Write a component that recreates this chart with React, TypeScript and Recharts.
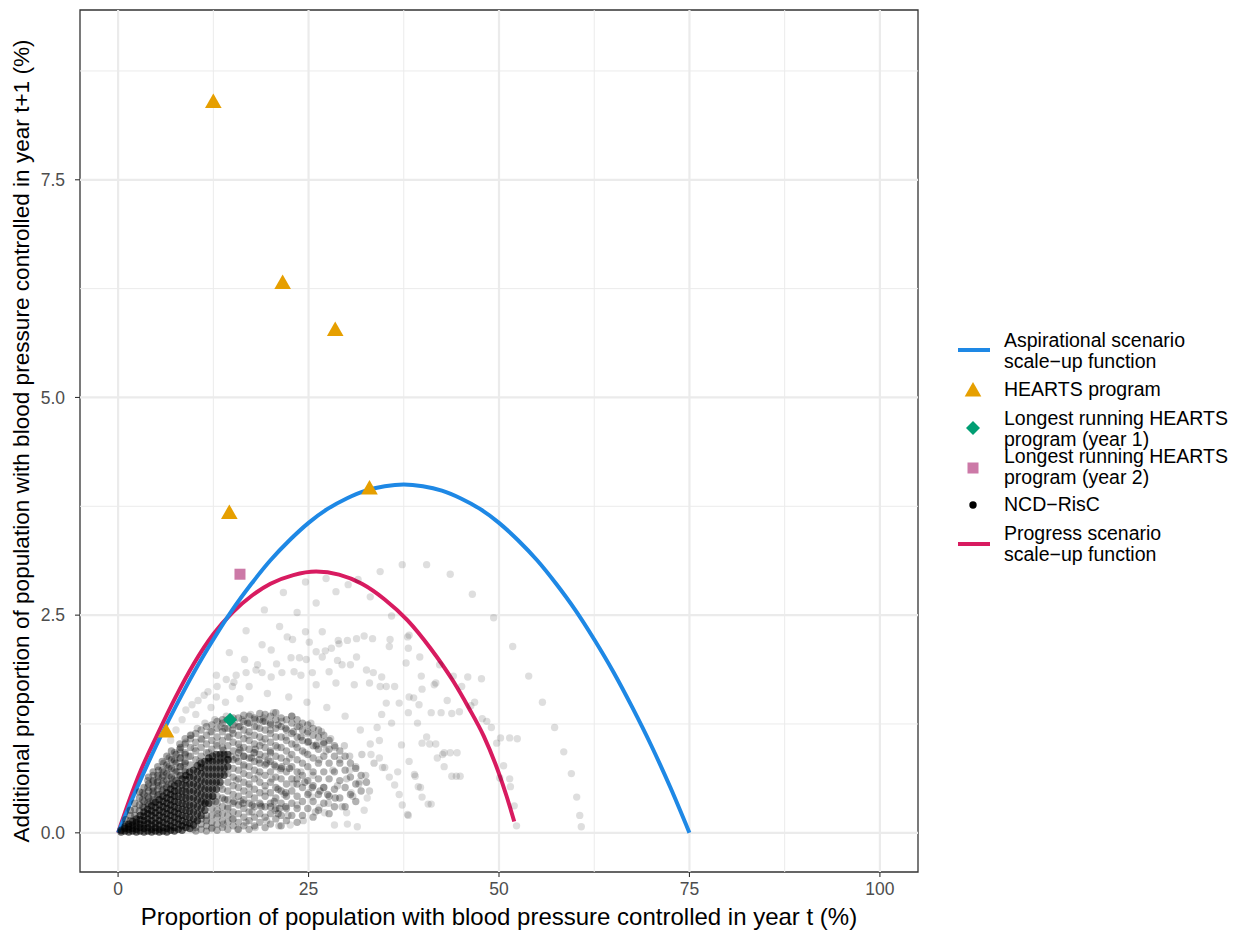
import { ComposedChart, Line, ReferenceArea, ReferenceLine, Scatter, XAxis, YAxis } from "recharts";

// tick positions (major get labels, minor are grid only)
const xTicks = [0, 25, 50, 75, 100];
const xMinor = [12.5, 37.5, 62.5, 87.5];
const yTicks = [0, 2.5, 5, 7.5];
const yMinor = [1.25, 3.75, 6.25, 8.75];

// scale-up functions
const aspirational: [number, number][] = [
  [0, 0], [2.5, 0.52], [5, 1.0], [7.5, 1.44], [10, 1.85], [12.5, 2.22], [15, 2.56], [17.5, 2.86],
  [20, 3.13], [22.5, 3.36], [25, 3.56], [27.5, 3.72], [30, 3.84], [32.5, 3.93], [35, 3.98], [37.5, 4.0],
  [40, 3.98], [42.5, 3.93], [45, 3.84], [47.5, 3.72], [50, 3.56], [52.5, 3.36], [55, 3.13], [57.5, 2.86],
  [60, 2.56], [62.5, 2.22], [65, 1.85], [67.5, 1.44], [70, 1.0], [72.5, 0.52], [75, 0],
];
const progress: [number, number][] = [
  [0, 0], [1.5, 0.38], [3, 0.72], [5, 1.1], [7.5, 1.55], [10, 1.95], [12.5, 2.28], [15, 2.53],
  [17.5, 2.72], [20, 2.86], [23, 2.96], [26, 3.0], [29, 2.965], [32, 2.86], [35, 2.68], [38, 2.44],
  [41, 2.12], [44, 1.74], [46, 1.44], [48, 1.11], [50, 0.68], [51, 0.42], [52, 0.13],
];

// programme observations
const hearts: [number, number][] = [[12.5, 8.4], [21.6, 6.32], [28.5, 5.78], [14.6, 3.68], [33.0, 3.96], [6.3, 1.17]];
const longestYear1: [number, number][] = [[14.7, 1.3]];
const longestYear2: [number, number][] = [[16.0, 2.97]];

// NCD-RisC country-years: scattered outer points
const ncdSparse: [number, number][] = [
  [34.4, 3.0], [37.3, 3.08], [40.5, 3.08], [43.6, 2.97], [46.5, 2.74], [49.3, 2.47], [51.8, 2.14], [53.9, 1.8],
  [55.7, 1.5], [57.3, 1.21], [58.5, 0.93], [59.5, 0.68], [60.2, 0.41], [60.6, 0.2], [60.8, 0.07],
  [24.6, 2.88], [27.3, 2.92], [28.6, 2.77], [30.2, 2.85], [31.5, 2.91], [33.1, 2.71], [21.7, 2.76], [26.0, 2.64],
  [19.2, 2.56], [23.5, 2.53], [35.9, 2.49], [16.8, 2.32], [21.2, 2.37], [24.6, 2.31], [26.8, 2.31], [22.2, 2.25],
  [22.9, 2.22], [28.9, 2.21], [30.1, 2.21], [31.3, 2.23], [32.3, 2.26], [33.4, 2.23], [35.7, 2.22], [35.6, 2.14],
  [18.9, 2.16], [20.1, 2.1], [25.1, 2.19], [28.0, 2.12], [27.2, 2.09], [26.8, 2.02], [26.0, 2.08], [29.0, 2.17],
  [38.0, 2.25], [38.1, 2.12], [22.7, 2.01], [23.8, 2.01], [24.7, 1.99], [31.3, 2.02], [14.6, 2.07], [16.6, 1.99],
  [39.6, 2.02], [38.2, 2.27], [18.3, 1.93], [20.8, 1.94], [18.9, 1.84], [20.1, 1.79], [21.5, 1.84], [23.1, 1.85],
  [24.0, 1.81], [27.7, 1.85], [28.8, 1.98], [29.4, 1.93], [30.5, 1.93], [32.6, 1.87], [33.5, 1.84], [34.6, 1.79],
  [37.8, 1.95], [39.8, 1.8], [35.2, 1.68], [36.3, 1.68], [41.7, 1.72], [38.8, 1.55], [39.9, 1.65], [12.9, 1.81],
  [14.2, 1.76], [15.2, 1.73], [15.5, 1.81], [16.8, 1.84], [18.1, 1.87], [13.0, 1.68], [15.0, 1.68], [17.2, 1.68],
  [25.5, 1.84], [26.0, 1.7], [28.6, 1.72], [31.0, 1.7], [33.0, 1.72], [34.4, 1.68],
  [44.0, 1.8], [45.9, 1.79], [47.7, 1.77], [46.8, 1.5], [46.3, 1.46], [47.8, 1.31], [48.4, 1.28], [49.0, 1.21],
  [50.2, 1.09], [51.4, 1.09], [52.4, 1.08], [49.7, 1.03], [50.6, 0.77], [50.1, 0.63], [51.4, 0.62], [51.5, 0.53],
  [52.0, 0.31], [52.3, 0.08], [42.4, 1.38], [43.8, 1.37], [44.8, 1.39], [41.1, 1.38], [43.2, 1.52], [41.5, 1.7],
  [42.2, 1.93], [45.1, 1.68], [42.8, 0.92], [43.6, 0.92], [44.5, 0.92], [41.9, 0.86], [42.8, 0.76], [43.8, 0.65],
  [44.4, 0.65], [44.9, 0.65], [41.1, 0.33], [40.9, 1.02], [41.7, 1.02], [39.3, 1.26], [40.5, 1.1], [38.1, 1.38],
  [39.9, 1.03], [38.2, 0.82], [38.9, 0.67], [39.4, 0.53], [39.9, 0.41], [40.7, 0.33], [38.0, 0.21], [36.9, 0.44],
  [36.3, 0.55], [35.6, 0.64], [34.7, 0.75], [34.3, 1.06], [34.0, 1.21], [35.2, 1.49], [36.9, 1.49], [38.2, 1.56],
  [39.5, 1.47], [34.6, 1.36], [35.9, 1.26], [37.2, 1.01], [39.0, 0.65], [39.7, 0.52], [37.3, 0.32], [38.1, 0.2],
  [35.0, 0.75], [36.7, 0.7], [34.3, 0.86], [33.2, 0.9], [30.4, 0.72], [31.7, 0.59], [32.7, 0.4], [32.3, 0.26],
  [30.0, 0.23], [31.4, 0.07], [30.1, 0.1], [28.4, 0.09], [22.6, 0.09], [27.1, 0.23], [26.4, 0.29], [25.5, 0.41],
  [30.6, 0.46], [42.6, 0.9], [8.4, 1.3], [9.7, 1.47], [8.9, 1.41], [11.3, 1.58], [12.9, 1.56], [10.5, 1.52],
  [11.8, 1.62], [7.6, 1.18], [6.9, 1.06], [10.2, 1.36], [12.2, 1.44], [14.1, 1.5], [16.0, 1.54], [19.6, 1.6],
  [22.4, 1.56], [24.8, 1.5], [27.4, 1.44], [29.8, 1.34], [31.8, 1.18], [33.1, 1.02],
];

// irregular points through the middle of the cloud
const ncdScatterMid: [number, number][] = [
  [4.2, 0.36], [4.6, 0.47], [5.1, 0.58], [5.5, 0.44], [5.9, 0.66], [6.3, 0.52], [6.6, 0.74], [6.9, 0.06],
  [7.1, 0.62], [7.4, 0.84], [7.8, 0.7], [8.2, 0.93], [8.3, 0.08], [8.6, 0.78], [8.9, 1.04], [9.1, 0.1],
  [9.3, 0.88], [9.6, 1.12], [9.8, 0.04], [10.0, 0.97], [10.3, 0.13], [10.4, 1.2], [10.7, 0.82], [11.0, 1.07],
  [11.2, 0.36], [11.4, 1.26], [11.6, 0.16], [11.9, 0.92], [12.1, 1.16], [12.3, 0.06], [12.5, 0.42], [12.7, 1.3],
  [12.9, 1.02], [13.1, 0.22], [13.4, 0.54], [13.5, 1.22], [13.8, 0.1], [14.0, 0.7], [14.2, 1.34], [14.4, 0.3],
  [14.6, 1.1], [14.8, 0.88], [15.0, 0.16], [15.3, 1.26], [15.5, 0.6], [15.7, 0.04], [15.9, 0.98], [16.1, 0.36],
  [16.3, 1.3], [16.5, 0.76], [16.8, 0.12], [17.0, 1.12], [17.2, 0.52], [17.4, 1.36], [17.6, 0.24], [17.8, 0.92],
  [18.0, 0.06], [18.2, 1.22], [18.4, 0.66], [18.7, 0.32], [18.9, 1.04], [19.1, 1.32], [19.3, 0.48], [19.5, 0.14],
  [19.7, 0.84], [20.0, 1.18], [20.2, 0.62], [20.4, 1.38], [20.6, 0.26], [20.9, 0.98], [21.1, 0.08], [21.3, 0.72],
  [21.5, 1.28], [21.8, 0.44], [22.0, 1.1], [22.3, 0.2], [22.5, 0.86], [22.8, 1.34], [23.0, 0.56], [23.3, 1.02],
  [23.5, 0.32], [23.8, 1.22], [24.0, 0.7], [24.3, 0.14], [24.5, 0.92], [24.8, 1.14], [25.0, 0.46], [25.3, 1.26],
  [25.6, 0.66], [25.9, 0.24], [26.1, 1.02], [26.4, 0.84], [26.7, 1.16], [27.0, 0.52], [27.3, 0.94], [27.6, 0.34],
  [27.9, 1.08], [28.2, 0.72], [28.5, 0.98], [28.8, 0.54], [29.1, 0.84], [29.4, 0.3], [29.7, 1.0], [30.0, 0.62],
  [30.4, 0.88], [30.8, 0.42], [31.2, 0.76], [31.6, 0.56], [32.0, 0.9], [32.5, 0.66], [33.0, 0.48], [33.6, 0.8],
];

// the broad grey mass, as columns of x with the y values stacked at that x
const ncdMassColumns: [number, number[]][] = [
  [3.2, [0.3, 0.38, 0.46]],
  [3.9, [0.34, 0.42, 0.52, 0.6]],
  [4.6, [0.38, 0.48, 0.58, 0.66]],
  [5.3, [0.44, 0.54, 0.64, 0.72]],
  [6.0, [0.5, 0.6, 0.7, 0.8]],
  [6.7, [0.56, 0.66, 0.76, 0.86]],
  [7.4, [0.62, 0.72, 0.82, 0.92]],
  [8.1, [0.66, 0.76, 0.86, 0.96, 1.02]],
  [8.8, [0.72, 0.82, 0.92, 1.02, 1.08]],
  [9.5, [0.78, 0.88, 0.98, 1.08, 1.12]],
  [10.2, [0.02, 0.06, 0.84, 0.94, 1.04, 1.14]],
  [10.9, [0.04, 0.1, 0.16, 0.88, 0.98, 1.08, 1.18]],
  [11.6, [0.02, 0.08, 0.14, 0.2, 0.92, 1.02, 1.12, 1.22]],
  [12.3, [0.05, 0.12, 0.2, 0.28, 0.36, 0.96, 1.06, 1.16, 1.24]],
  [13.0, [0.03, 0.1, 0.18, 0.26, 0.34, 0.42, 1.0, 1.1, 1.2, 1.28]],
  [13.7, [0.06, 0.14, 0.22, 0.3, 0.4, 0.5, 0.98, 1.06, 1.16, 1.26, 1.3]],
  [14.4, [0.04, 0.12, 0.2, 0.28, 0.38, 0.48, 0.58, 0.68, 1.0, 1.1, 1.2, 1.3]],
  [15.1, [0.08, 0.16, 0.24, 0.34, 0.44, 0.54, 0.64, 0.74, 0.84, 0.94, 1.04, 1.14, 1.24, 1.32]],
  [15.8, [0.04, 0.12, 0.22, 0.32, 0.42, 0.52, 0.62, 0.72, 0.82, 0.92, 1.02, 1.12, 1.22, 1.32]],
  [16.5, [0.08, 0.18, 0.28, 0.38, 0.48, 0.58, 0.68, 0.78, 0.88, 0.98, 1.08, 1.18, 1.28, 1.35]],
  [17.2, [0.04, 0.14, 0.24, 0.34, 0.44, 0.56, 0.66, 0.76, 0.86, 0.96, 1.06, 1.16, 1.26, 1.34]],
  [17.9, [0.08, 0.18, 0.3, 0.4, 0.5, 0.62, 0.72, 0.82, 0.92, 1.02, 1.12, 1.22, 1.32]],
  [18.6, [0.12, 0.22, 0.34, 0.46, 0.58, 0.7, 0.8, 0.9, 1.0, 1.1, 1.2, 1.3, 1.37]],
  [19.3, [0.06, 0.18, 0.3, 0.42, 0.54, 0.66, 0.78, 0.88, 0.98, 1.08, 1.18, 1.28, 1.36]],
  [20.0, [0.1, 0.22, 0.34, 0.46, 0.58, 0.7, 0.82, 0.94, 1.04, 1.14, 1.24, 1.34]],
  [20.7, [0.16, 0.28, 0.4, 0.52, 0.64, 0.76, 0.88, 1.0, 1.1, 1.2, 1.3, 1.38]],
  [21.4, [0.08, 0.2, 0.34, 0.48, 0.62, 0.74, 0.86, 0.98, 1.1, 1.22, 1.32]],
  [22.1, [0.14, 0.28, 0.42, 0.56, 0.7, 0.82, 0.94, 1.06, 1.18, 1.3]],
  [22.8, [0.2, 0.34, 0.48, 0.62, 0.76, 0.9, 1.02, 1.14, 1.26, 1.34]],
  [23.5, [0.12, 0.28, 0.42, 0.56, 0.7, 0.84, 0.98, 1.1, 1.22, 1.3]],
  [24.2, [0.2, 0.36, 0.52, 0.66, 0.8, 0.94, 1.06, 1.18, 1.26]],
  [24.9, [0.28, 0.44, 0.6, 0.76, 0.9, 1.04, 1.16, 1.24]],
  [25.6, [0.18, 0.36, 0.54, 0.7, 0.86, 1.0, 1.12, 1.2]],
  [26.3, [0.26, 0.44, 0.62, 0.8, 0.96, 1.1, 1.18]],
  [27.0, [0.34, 0.52, 0.7, 0.88, 1.04, 1.12]],
  [27.7, [0.22, 0.42, 0.62, 0.8, 0.96, 1.06]],
  [28.4, [0.3, 0.5, 0.7, 0.88, 1.0]],
  [29.1, [0.4, 0.6, 0.8, 0.94]],
  [29.8, [0.3, 0.52, 0.72, 0.88]],
  [30.5, [0.44, 0.64, 0.8]],
  [31.2, [0.36, 0.56, 0.74]],
  [31.9, [0.48, 0.66]],
  [32.6, [0.58]],
];

// points packed between the black wedge and the scale-up curves
const ncdNearOriginColumns: [number, number[]][] = [
  [1.0, [0.1, 0.15]],
  [1.6, [0.14, 0.2, 0.26]],
  [2.2, [0.2, 0.27, 0.34]],
  [2.8, [0.25, 0.32, 0.4, 0.47]],
  [3.4, [0.29, 0.36, 0.44, 0.52]],
  [4.0, [0.32, 0.4, 0.48, 0.56, 0.64]],
  [4.6, [0.36, 0.44, 0.52, 0.6, 0.7]],
  [5.2, [0.42, 0.5, 0.58, 0.66, 0.76]],
  [5.8, [0.48, 0.56, 0.64, 0.72, 0.82]],
  [6.4, [0.52, 0.6, 0.68, 0.78, 0.88]],
  [7.0, [0.56, 0.64, 0.74, 0.84, 0.94]],
  [7.6, [0.6, 0.7, 0.8, 0.9]],
  [8.2, [0.66, 0.76, 0.86, 0.98]],
  [8.8, [0.7, 0.8, 0.9]],
];

// darker streaks running through the grey mass
const ncdStreaks: [number, number][] = [
  [13.5, 0.86], [14.5, 0.84], [15.5, 0.86], [16.5, 0.88], [17.5, 0.86], [18.5, 0.84], [19.5, 0.8], [20.5, 0.78],
  [21.5, 0.76], [22.5, 0.74], [13.8, 0.95], [16.0, 0.95], [18.0, 0.96], [20.0, 0.92], [11.5, 0.34], [12.8, 0.36],
  [14.0, 0.38], [15.2, 0.36], [16.4, 0.34], [17.6, 0.32], [18.8, 0.3], [20.0, 0.3], [21.2, 0.28], [22.0, 0.3],
  [20.5, 0.36], [21.0, 0.22], [14.0, 1.2], [15.0, 1.18], [16.0, 1.22], [17.0, 1.26], [18.0, 1.3], [19.0, 1.28],
  [20.0, 1.26], [21.0, 1.24], [22.0, 1.2], [23.0, 1.16], [24.0, 1.1], [25.0, 1.05], [26.0, 1.0], [27.0, 1.02],
  [23.5, 0.62], [24.5, 0.58], [25.5, 0.52], [26.5, 0.48], [27.5, 0.44], [28.5, 0.4], [21.0, 0.5], [22.0, 0.46],
];

// the near-black wedge next to the origin
const ncdCoreColumns: [number, number[]][] = [
  [0.4, [0.01, 0.03]],
  [0.9, [0.02, 0.05, 0.07]],
  [1.4, [0.01, 0.04, 0.07, 0.1]],
  [1.9, [0.02, 0.05, 0.09, 0.13]],
  [2.4, [0.01, 0.04, 0.08, 0.12, 0.16]],
  [2.9, [0.02, 0.06, 0.1, 0.15, 0.2]],
  [3.4, [0.01, 0.05, 0.09, 0.14, 0.19, 0.24]],
  [3.9, [0.02, 0.06, 0.11, 0.16, 0.22, 0.27]],
  [4.4, [0.01, 0.04, 0.09, 0.14, 0.2, 0.25, 0.31]],
  [4.9, [0.02, 0.06, 0.11, 0.17, 0.23, 0.29, 0.35]],
  [5.4, [0.01, 0.04, 0.09, 0.14, 0.2, 0.26, 0.32, 0.38]],
  [5.9, [0.02, 0.06, 0.12, 0.18, 0.24, 0.3, 0.36, 0.42]],
  [6.4, [0.01, 0.05, 0.1, 0.16, 0.22, 0.28, 0.34, 0.4, 0.46]],
  [6.9, [0.03, 0.08, 0.14, 0.2, 0.26, 0.32, 0.38, 0.44, 0.5]],
  [7.4, [0.02, 0.06, 0.12, 0.18, 0.24, 0.3, 0.36, 0.42, 0.48, 0.54]],
  [7.9, [0.04, 0.1, 0.16, 0.22, 0.28, 0.35, 0.42, 0.49, 0.57]],
  [8.4, [0.03, 0.08, 0.14, 0.2, 0.27, 0.34, 0.41, 0.48, 0.55, 0.62]],
  [8.9, [0.06, 0.12, 0.19, 0.26, 0.33, 0.4, 0.47, 0.54, 0.61, 0.66]],
  [9.4, [0.05, 0.11, 0.18, 0.25, 0.32, 0.4, 0.48, 0.56, 0.64, 0.7]],
  [9.9, [0.09, 0.16, 0.24, 0.32, 0.4, 0.48, 0.56, 0.64, 0.72]],
  [10.4, [0.14, 0.22, 0.3, 0.38, 0.46, 0.54, 0.62, 0.7, 0.77]],
  [10.9, [0.2, 0.28, 0.36, 0.44, 0.52, 0.6, 0.68, 0.75, 0.8]],
  [11.4, [0.26, 0.34, 0.42, 0.5, 0.58, 0.66, 0.74, 0.82]],
  [11.9, [0.34, 0.42, 0.5, 0.58, 0.66, 0.74, 0.82, 0.86]],
  [12.4, [0.42, 0.5, 0.58, 0.66, 0.74, 0.82, 0.88]],
  [12.9, [0.5, 0.58, 0.66, 0.74, 0.82, 0.9]],
  [13.4, [0.58, 0.66, 0.74, 0.82, 0.9]],
  [13.9, [0.66, 0.74, 0.82, 0.9]],
  [14.4, [0.76, 0.84, 0.9]],
];

const toRows = (pairs: [number, number][]) => pairs.map(([x, y]) => ({ x, y }));
const fromColumns = (cols: [number, number[]][]) => cols.flatMap(([x, ys]) => ys.map((y) => ({ x, y })));

const BLUE = "#1E88E5";
const RED = "#D81B60";
const ORANGE = "#E69F00";
const GREEN = "#009E73";
const PINK = "#CC79A7";
const GRID = "#ebebeb";
const FONT = "'Liberation Sans', Arial, Helvetica, sans-serif";

const dot = (opacity: number) => (props: any) => (
  <circle cx={props.cx} cy={props.cy} r={3.7} fill="#000" fillOpacity={opacity} />
);
const triangle = (props: any) => (
  <polygon points={`${props.cx},${props.cy - 8} ${props.cx - 8.3},${props.cy + 6.5} ${props.cx + 8.3},${props.cy + 6.5}`} fill={ORANGE} />
);
const diamond = (props: any) => (
  <polygon points={`${props.cx},${props.cy - 7} ${props.cx + 7},${props.cy} ${props.cx},${props.cy + 7} ${props.cx - 7},${props.cy}`} fill={GREEN} />
);
const square = (props: any) => (
  <rect x={props.cx - 5.5} y={props.cy - 5.5} width={11} height={11} fill={PINK} />
);

const legendText = { position: "absolute" as const, left: 996, fontSize: 19.5, lineHeight: "21px", color: "#000", whiteSpace: "nowrap" as const };

export default function App() {
  return (
    <div style={{ position: "relative", width: 1225, height: 925, fontFamily: FONT, background: "#fff" }}>
      <ComposedChart width={1225} height={925} margin={{ top: 2, right: 315, bottom: 0, left: 0 }}>
        <XAxis
          type="number"
          dataKey="x"
          domain={[-5, 105]}
          allowDataOverflow
          ticks={xTicks}
          axisLine={false}
          tickSize={5}
          tickMargin={6}
          height={61}
          tickLine={{ stroke: "#333", strokeWidth: 1.1 }}
          tick={{ fill: "#4d4d4d", fontSize: 17.5, fontFamily: FONT }}
        />
        <YAxis
          type="number"
          dataKey="y"
          domain={[-0.45, 9.45]}
          allowDataOverflow
          ticks={yTicks}
          axisLine={false}
          tickSize={5}
          tickMargin={10}
          width={72}
          tickLine={{ stroke: "#333", strokeWidth: 1.1 }}
          tickFormatter={(v: number) => v.toFixed(1)}
          tick={{ fill: "#4d4d4d", fontSize: 17.5, fontFamily: FONT }}
        />
        {xMinor.map((v) => (
          <ReferenceLine key={`xm${v}`} x={v} stroke={GRID} strokeWidth={1} />
        ))}
        {yMinor.map((v) => (
          <ReferenceLine key={`ym${v}`} y={v} stroke={GRID} strokeWidth={1} />
        ))}
        {xTicks.map((v) => (
          <ReferenceLine key={`x${v}`} x={v} stroke={GRID} strokeWidth={2.2} />
        ))}
        {yTicks.map((v) => (
          <ReferenceLine key={`y${v}`} y={v} stroke={GRID} strokeWidth={2.2} />
        ))}
        <Scatter data={toRows(ncdSparse)} shape={dot(0.13)} isAnimationActive={false} />
        <Scatter data={toRows(ncdScatterMid)} shape={dot(0.18)} isAnimationActive={false} />
        <Scatter data={fromColumns(ncdMassColumns)} shape={dot(0.3)} isAnimationActive={false} />
        <Scatter data={fromColumns(ncdNearOriginColumns)} shape={dot(0.35)} isAnimationActive={false} />
        <Scatter data={toRows(ncdStreaks)} shape={dot(0.3)} isAnimationActive={false} />
        <Scatter data={fromColumns(ncdCoreColumns)} shape={dot(0.6)} isAnimationActive={false} />
        <Scatter data={toRows(hearts)} shape={triangle} isAnimationActive={false} />
        <Scatter data={toRows(longestYear1)} shape={diamond} isAnimationActive={false} />
        <Scatter data={toRows(longestYear2)} shape={square} isAnimationActive={false} />
        <Line data={toRows(progress)} dataKey="y" type="monotone" stroke={RED} strokeWidth={4} dot={false} isAnimationActive={false} />
        <Line data={toRows(aspirational)} dataKey="y" type="monotone" stroke={BLUE} strokeWidth={4} dot={false} isAnimationActive={false} />
        <ReferenceArea x1={-5} x2={105} y1={-0.45} y2={9.45} fill="none" stroke="#333" strokeWidth={1.3} />
      </ComposedChart>

      <div style={{ position: "absolute", left: 72, width: 838, top: 896, textAlign: "center", fontSize: 24, lineHeight: "26px" }}>
        Proportion of population with blood pressure controlled in year t (%)
      </div>
      <div style={{ position: "absolute", left: 14, top: 433, width: 0, height: 0 }}>
        <div style={{ position: "absolute", transform: "translate(-50%, -50%) rotate(-90deg)", whiteSpace: "nowrap", fontSize: 22.6, lineHeight: "24px" }}>
          Additional proportion of population with blood pressure controlled in year t+1 (%)
        </div>
      </div>

      {/* legend */}
      <div style={{ position: "absolute", left: 950, top: 340, width: 32, height: 4, background: BLUE }} />
      <div style={{ ...legendText, top: 322 }}>Aspirational scenario<br />scale−up function</div>
      <svg style={{ position: "absolute", left: 955, top: 372 }} width={20} height={20}>
        <polygon points="10,2 1.7,16.5 18.3,16.5" fill={ORANGE} />
      </svg>
      <div style={{ ...legendText, top: 371 }}>HEARTS program</div>
      <svg style={{ position: "absolute", left: 955, top: 410 }} width={20} height={20}>
        <polygon points="10,3 17,10 10,17 3,10" fill={GREEN} />
      </svg>
      <div style={{ ...legendText, top: 400 }}>Longest running HEARTS<br />program (year 1)</div>
      <svg style={{ position: "absolute", left: 955, top: 450 }} width={20} height={20}>
        <rect x={4.5} y={4.5} width={11} height={11} fill={PINK} />
      </svg>
      <div style={{ ...legendText, top: 438 }}>Longest running HEARTS<br />program (year 2)</div>
      <svg style={{ position: "absolute", left: 955, top: 487 }} width={20} height={20}>
        <circle cx={10} cy={10} r={3.7} fill="#000" />
      </svg>
      <div style={{ ...legendText, top: 486 }}>NCD−RisC</div>
      <div style={{ position: "absolute", left: 950, top: 534, width: 32, height: 4, background: RED }} />
      <div style={{ ...legendText, top: 515 }}>Progress scenario<br />scale−up function</div>
    </div>
  );
}
